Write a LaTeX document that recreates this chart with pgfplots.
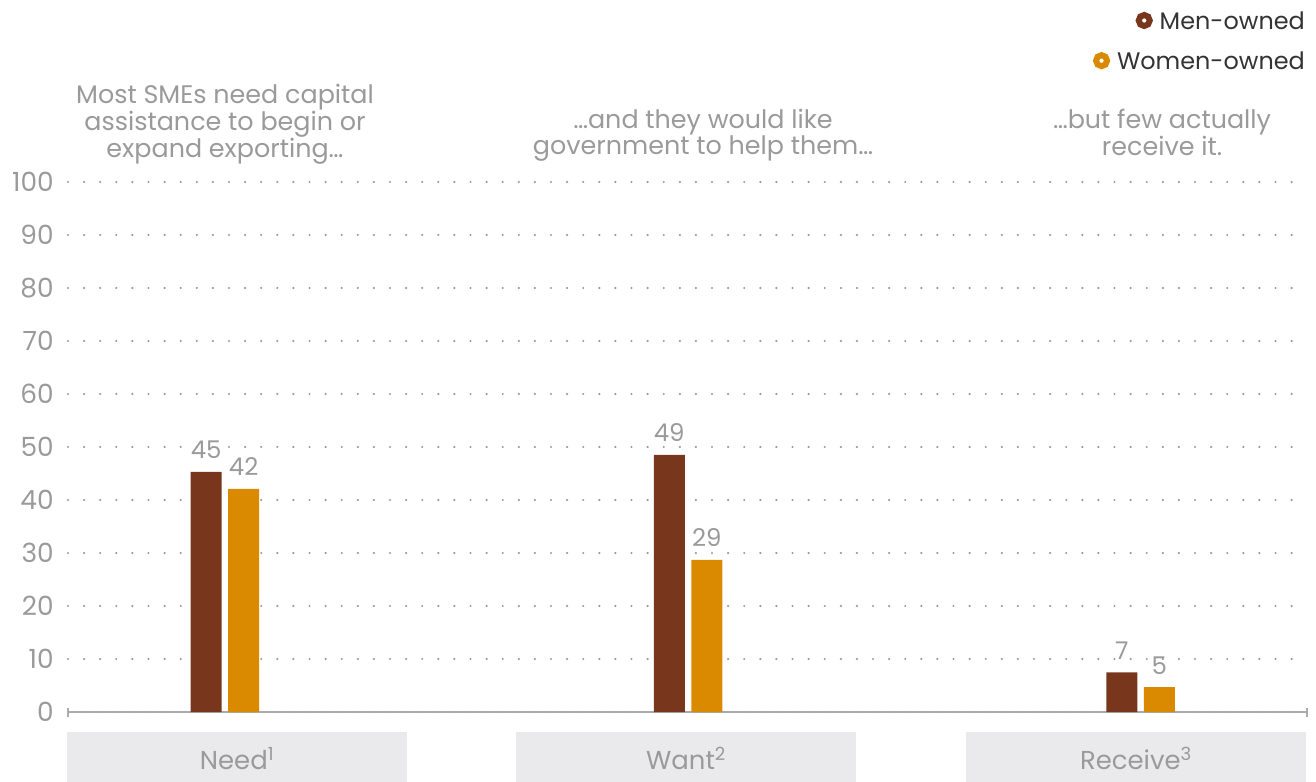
\documentclass[border=0pt]{standalone}
\usepackage{pgfplots}
\pgfplotsset{compat=1.18}
\usepackage{pgfplotstable}
\usepackage{fontspec}
\setmainfont{Poppins}
\definecolor{menc}{HTML}{78371C}
\definecolor{womc}{HTML}{D98A00}
\definecolor{txtgray}{HTML}{9A9A9A}
\definecolor{boxgray}{HTML}{EAEAEC}
\definecolor{axgray}{HTML}{ABABAB}
\definecolor{legtxt}{HTML}{333333}

\pgfplotstableread{
x y lab
156.9 45.3 45
620 48.5 49
1072.5 7.5 7
}\men
\pgfplotstableread{
x y lab
156.9 42.1 42
620 28.7 29
1072.5 4.7 5
}\women

\newcommand{\ring}[1]{\tikz[baseline=-0.36em]\draw[line width=6bp,#1] (0,0) circle (5.5bp);}

\begin{document}
\begin{tikzpicture}
\path[use as bounding box] (-68bp,-70bp) rectangle (1248bp,712bp);
\begin{axis}[
  scale only axis, width=1239bp, height=530bp,
  xmin=0, xmax=1239, ymin=0, ymax=100,
  clip=false,
  axis x line=bottom, axis y line=left,
  x axis line style={axgray, line width=2bp, -},
  y axis line style={draw=none},
  ytick={0,10,...,100},
  ytick style={draw=none},
  ymajorgrids,
  y grid style={txtgray, line width=2.4bp, dash pattern=on 0pt off 16.1bp, line cap=round},
  y tick label style={text=txtgray, font=\fontsize{26.5}{30}\selectfont, inner sep=0pt, xshift=-12bp},
  /pgf/number format/assume math mode=true,
  xtick={169,618,1068},
  xticklabels={Need\textsuperscript{1}, Want\textsuperscript{2}, Receive\textsuperscript{3}},
  xtick style={draw=none},
  x tick label style={fill=boxgray, text=txtgray, minimum width=340bp, minimum height=52bp, inner sep=0pt, anchor=north, yshift=-18bp, font=\fontsize{26}{30}\selectfont},
  extra x ticks={0,1239},
  extra x tick labels={},
  extra x tick style={xtick style={draw=axgray, line width=2bp}, major tick length=9bp, tick align=center,
     x tick label style={fill=none, minimum width=0pt, minimum height=0pt}},
  legend style={at={(axis cs:1239,132.6)}, anchor=north east, draw=none, fill=none, font=\fontsize{24}{28}\selectfont, text=legtxt, cells={anchor=east}, row sep=17bp, inner sep=0pt},
]
\addplot[ybar, bar width=31bp, bar shift=-18.75bp, fill=menc, draw=none, forget plot,
  nodes near coords, point meta=explicit symbolic,
  nodes near coords style={text=txtgray, font=\fontsize{24.5}{26}\selectfont, anchor=base, inner sep=0pt, yshift=13bp, xshift=-18.75bp}] table[x=x, y=y, meta=lab]{\men};
\addplot[ybar, bar width=31bp, bar shift=18.75bp, fill=womc, draw=none, forget plot,
  nodes near coords, point meta=explicit symbolic,
  nodes near coords style={text=txtgray, font=\fontsize{24.5}{26}\selectfont, anchor=base, inner sep=0pt, yshift=13bp, xshift=18.75bp}] table[x=x, y=y, meta=lab]{\women};
\addlegendimage{empty legend}
\addlegendentry{\ring{menc}\hspace{7bp}Men-owned}
\addlegendimage{empty legend}
\addlegendentry{\ring{womc}\hspace{7bp}Women-owned}

\node[anchor=north, inner sep=0pt, align=center, text=txtgray, font=\fontsize{25.5}{24}\selectfont] at (axis cs:157,118.5) {Most SMEs need capital\\assistance to begin or\\expand exporting\ldots};
\node[anchor=north, inner sep=0pt, align=center, text=txtgray, font=\fontsize{25.5}{24}\selectfont] at (axis cs:635,113.8) {\ldots and they would like\\government to help them\ldots};
\node[anchor=north, inner sep=0pt, align=center, text=txtgray, font=\fontsize{25.5}{24}\selectfont] at (axis cs:1094,113.8) {\ldots but few actually\\receive it.};
\end{axis}
\end{tikzpicture}
\end{document}
